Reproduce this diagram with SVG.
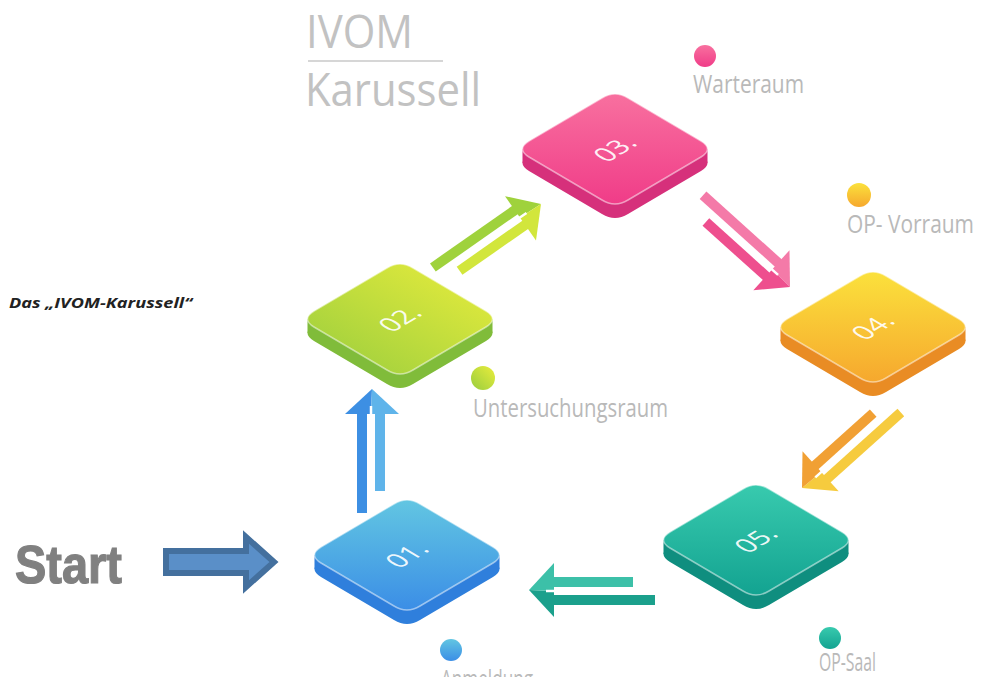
<svg xmlns="http://www.w3.org/2000/svg" xmlns:xlink="http://www.w3.org/1999/xlink" width="1007" height="677" viewBox="0 0 1007 677">
<style>
.ttl{font-family:"Open Sans","Noto Sans",sans-serif;font-size:46px;fill:#c2c2c2}
.lbl{font-family:"Open Sans","Noto Sans",sans-serif;font-size:25px;fill:#b9b9b9}
.num{font-family:"Open Sans","Noto Sans",sans-serif;font-size:32px;fill:#ffffff;fill-opacity:.92;text-anchor:middle}
.cap{font-family:"Open Sans","Noto Sans",sans-serif;font-size:14px;font-weight:700;font-style:italic;fill:#222}
.start{font-family:"Liberation Sans",Arial,sans-serif;font-size:54px;font-weight:700;fill:#808080;stroke:#808080;stroke-width:1.2}
.hl{stroke:#ffffff;stroke-opacity:.5;stroke-width:1.5}
.gap{stroke:#ffffff;stroke-width:2.5}
</style>
<defs>
<path id="face" d="M-86,-8 L-13,-51 Q0,-59 13,-51 L86,-8 Q99,0 86,8 L13,51 Q0,59 -13,51 L-86,8 Q-99,0 -86,-8 Z"/>
<linearGradient id="g1" x1="0" y1="0" x2="0" y2="1"><stop offset="0" stop-color="#62c6e2"/><stop offset="1" stop-color="#3b8ee6"/></linearGradient>
<linearGradient id="g2" x1="1" y1="0" x2="0" y2="1"><stop offset="0" stop-color="#eaed3c"/><stop offset="1" stop-color="#98cd3e"/></linearGradient>
<linearGradient id="g3" x1="0" y1="0" x2="0" y2="1"><stop offset="0" stop-color="#f8709f"/><stop offset="1" stop-color="#f03c88"/></linearGradient>
<linearGradient id="g4" x1="0" y1="0" x2="0" y2="1"><stop offset="0" stop-color="#fbe13c"/><stop offset="1" stop-color="#f6a82e"/></linearGradient>
<linearGradient id="g5" x1="0" y1="0" x2="0" y2="1"><stop offset="0" stop-color="#38caae"/><stop offset="1" stop-color="#13a391"/></linearGradient>
<linearGradient id="l3" x1="0" y1="0" x2="1" y2="0"><stop offset="0" stop-color="#e84b89"/><stop offset="1" stop-color="#f283ad"/></linearGradient>
<linearGradient id="l4" x1="0" y1="0" x2="1" y2="0"><stop offset="0" stop-color="#f0a030"/><stop offset="1" stop-color="#f8e244"/></linearGradient>
<linearGradient id="l2" x1="0" y1="0" x2="1" y2="0"><stop offset="0" stop-color="#9ccf3c"/><stop offset="1" stop-color="#ece93e"/></linearGradient>
</defs>
<rect width="1007" height="677" fill="#ffffff"/>

<g id="title">
<text class="ttl" x="306" y="48" textLength="107" lengthAdjust="spacingAndGlyphs">IVOM</text>
<line x1="308" y1="61" x2="443" y2="61" stroke="#d6d6d6" stroke-width="2"/>
<text class="ttl" x="305" y="106" textLength="176" lengthAdjust="spacingAndGlyphs">Karussell</text>
</g>
<text class="cap" x="9" y="308" textLength="183" lengthAdjust="spacingAndGlyphs">Das „IVOM-Karussell“</text>

<g id="start">
<text class="start" x="15" y="583" textLength="107" lengthAdjust="spacingAndGlyphs">Start</text>
<path d="M166,551 H246 V537 L274,562 L246,587 V573 H166 Z" fill="#5a8fc8" stroke="#44709e" stroke-width="6"/>
</g>

<g id="connectors">
<g transform="translate(372,389) rotate(-90)">
<rect x="-124" y="-15" width="100" height="10" fill="#3d8fe3"/>
<rect x="-102" y="3" width="78" height="10" fill="#5fb4ea"/>
<polygon points="0,0 -25,-27 -25,-1" fill="#3d8fe3"/>
<polygon points="0,0 -25,-1 -25,27" fill="#5fb4ea"/>
<line class="gap" x1="-26" y1="-1" x2="-17" y2="-1"/>
</g>
<g transform="translate(541,204) rotate(-35)">
<rect x="-125" y="-15" width="101" height="10" fill="#9fd23c"/>
<rect x="-105" y="3" width="81" height="10" fill="#d2e63c"/>
<polygon points="0,0 -25,-27 -25,-1" fill="#9fd23c"/>
<polygon points="0,0 -25,-1 -25,27" fill="#d2e63c"/>
<line class="gap" x1="-26" y1="-1" x2="-17" y2="-1"/>
</g>
<g transform="translate(790,287) rotate(42)">
<rect x="-126" y="-15" width="102" height="10" fill="#f47aa8"/>
<rect x="-106" y="3" width="82" height="10" fill="#ee4f8e"/>
<polygon points="0,0 -25,-27 -25,-1" fill="#f47aa8"/>
<polygon points="0,0 -25,-1 -25,27" fill="#ee4f8e"/>
<line class="gap" x1="-26" y1="-1" x2="-17" y2="-1"/>
</g>
<g transform="translate(802,488) rotate(138)">
<rect x="-124" y="-15" width="100" height="10" fill="#f6cb3e"/>
<rect x="-103" y="3" width="79" height="10" fill="#f1a034"/>
<polygon points="0,0 -25,-27 -25,-1" fill="#f6cb3e"/>
<polygon points="0,0 -25,-1 -25,27" fill="#f1a034"/>
<line class="gap" x1="-26" y1="-1" x2="-17" y2="-1"/>
</g>
<g transform="translate(529,590) rotate(180)">
<rect x="-126" y="-15" width="102" height="10" fill="#1ba08c"/>
<rect x="-104" y="3" width="80" height="10" fill="#3cc0a8"/>
<polygon points="0,0 -25,-27 -25,-1" fill="#1ba08c"/>
<polygon points="0,0 -25,-1 -25,27" fill="#3cc0a8"/>
<line class="gap" x1="-26" y1="-1" x2="-17" y2="-1"/>
</g>
</g>

<g id="node-01">
<g transform="translate(407,555)">
<use href="#face" y="14" fill="#2f7fdc"/>
<rect x="-92.5" y="0" width="185" height="14" fill="#2f7fdc"/>
<use href="#face" fill="url(#g1)" class="hl"/>
<text class="num" transform="scale(1,0.6) rotate(-45)" y="11">01.</text>
</g>
<circle cx="451" cy="650" r="11" fill="url(#g1)"/>
<text class="lbl" x="441" y="688" textLength="92" lengthAdjust="spacingAndGlyphs">Anmeldung</text>
</g>

<g id="node-02">
<g transform="translate(400,319)">
<use href="#face" y="14" fill="#80bc3a"/>
<rect x="-92.5" y="0" width="185" height="14" fill="#80bc3a"/>
<use href="#face" fill="url(#g2)" class="hl"/>
<text class="num" transform="scale(1,0.6) rotate(-45)" y="11">02.</text>
</g>
<circle cx="483" cy="378" r="12" fill="url(#g2)"/>
<text class="lbl" x="473" y="417" textLength="195" lengthAdjust="spacingAndGlyphs">Untersuchungsraum</text>
<line x1="473" y1="432" x2="643" y2="432" stroke="url(#l2)" stroke-width="3"/>
</g>

<g id="node-03">
<g transform="translate(615,149)">
<use href="#face" y="14" fill="#d6307b"/>
<rect x="-92.5" y="0" width="185" height="14" fill="#d6307b"/>
<use href="#face" fill="url(#g3)" class="hl"/>
<text class="num" transform="scale(1,0.6) rotate(-45)" y="11">03.</text>
</g>
<circle cx="705" cy="56" r="11" fill="url(#g3)"/>
<text class="lbl" x="693" y="93" textLength="111" lengthAdjust="spacingAndGlyphs">Warteraum</text>
<line x1="693" y1="109" x2="863" y2="109" stroke="url(#l3)" stroke-width="3"/>
</g>

<g id="node-04">
<g transform="translate(873,327)">
<use href="#face" y="14" fill="#e98c24"/>
<rect x="-92.5" y="0" width="185" height="14" fill="#e98c24"/>
<use href="#face" fill="url(#g4)" class="hl"/>
<text class="num" transform="scale(1,0.6) rotate(-45)" y="11">04.</text>
</g>
<circle cx="859" cy="195" r="12" fill="url(#g4)"/>
<text class="lbl" x="847" y="233" textLength="127" lengthAdjust="spacingAndGlyphs">OP- Vorraum</text>
<line x1="847" y1="247" x2="1007" y2="247" stroke="url(#l4)" stroke-width="3"/>
</g>

<g id="node-05">
<g transform="translate(756,540)">
<use href="#face" y="14" fill="#0f8e7f"/>
<rect x="-92.5" y="0" width="185" height="14" fill="#0f8e7f"/>
<use href="#face" fill="url(#g5)" class="hl"/>
<text class="num" transform="scale(1,0.6) rotate(-45)" y="11">05.</text>
</g>
<circle cx="830" cy="638" r="11" fill="url(#g5)"/>
<text class="lbl" x="819" y="671" textLength="57" lengthAdjust="spacingAndGlyphs">OP-Saal</text>
</g>
</svg>
